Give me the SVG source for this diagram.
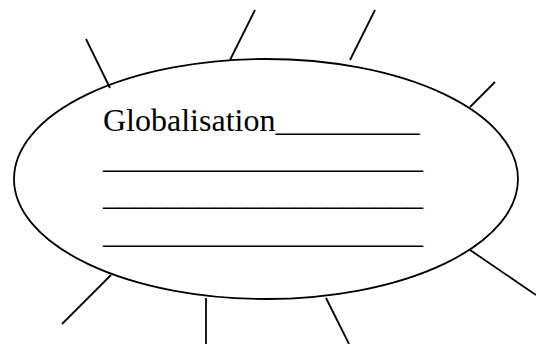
<svg xmlns="http://www.w3.org/2000/svg" width="536" height="344" viewBox="0 0 536 344">
<style>
.s{stroke:#000;stroke-width:1.8;fill:none;stroke-linecap:butt}
.t{font-family:"Liberation Serif","Times New Roman",serif;font-size:32px;fill:#000}
</style>
<rect width="536" height="344" fill="#fff"/>
<g id="connectors">
<line class="s" x1="86" y1="39" x2="110" y2="88"/>
<line class="s" x1="255" y1="10" x2="230" y2="60"/>
<line class="s" x1="375" y1="10" x2="350" y2="60"/>
<line class="s" x1="495" y1="82" x2="470" y2="107"/>
<line class="s" x1="470" y1="250" x2="536" y2="295"/>
<line class="s" x1="326" y1="298" x2="349" y2="344"/>
<line class="s" x1="206" y1="298" x2="206" y2="344"/>
<line class="s" x1="111" y1="275" x2="62" y2="324"/>
</g>
<g id="node-globalisation">
<ellipse class="s" cx="266" cy="179" rx="252" ry="120"/>
<text class="t" x="103" y="131">Globalisation_________</text>
<text class="t" x="103" y="168">____________________</text>
<text class="t" x="103" y="205">____________________</text>
<text class="t" x="103" y="243">____________________</text>
</g>
</svg>
